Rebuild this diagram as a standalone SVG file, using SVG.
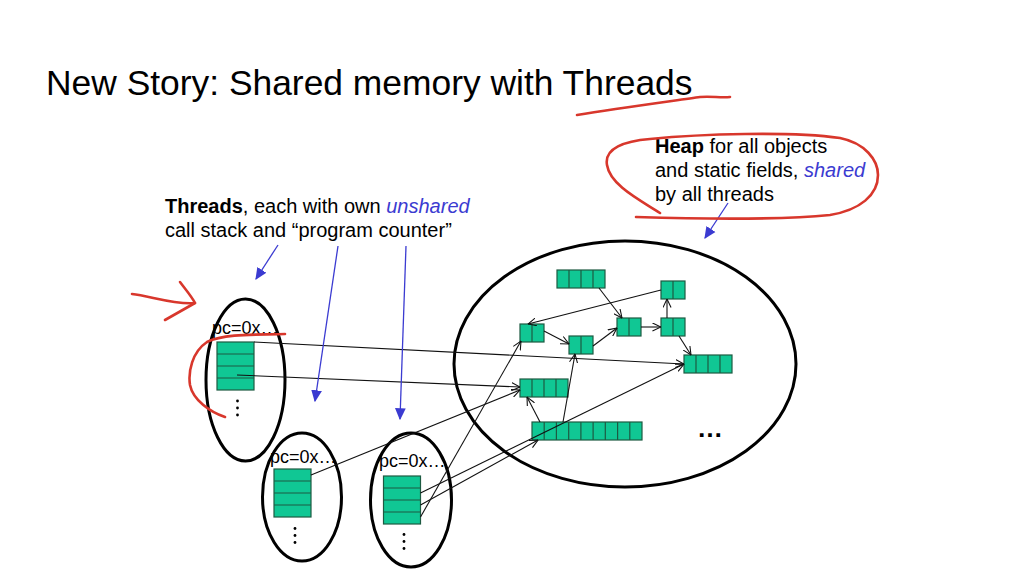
<svg xmlns="http://www.w3.org/2000/svg" width="1024" height="576" viewBox="0 0 1024 576">
<style>
text{font-family:"Liberation Sans",Arial,sans-serif;fill:#000}
.cell{fill:#10c794;stroke:#1d5a42;stroke-width:1.2}
.div{stroke:#1d5a42;stroke-width:1.2}
.conn{stroke:#111;stroke-width:1.1;fill:none}
.blue{stroke:#3b3bd1;stroke-width:1.3;fill:none}
.red{stroke:#d8372c;stroke-width:2.6;fill:none;stroke-linecap:round;stroke-linejoin:round}
.oval{fill:none;stroke:#000;stroke-width:3}
.dot{fill:#000}
</style>
<defs>
<marker id="ah" viewBox="0 0 10 10" refX="9.5" refY="5" markerWidth="9" markerHeight="9" markerUnits="userSpaceOnUse" orient="auto">
<path d="M0,0.5 L9.5,5 L0,9.5" fill="none" stroke="#111" stroke-width="1.2"/>
</marker>
<marker id="bh" viewBox="0 0 10 10" refX="9" refY="5" markerWidth="12" markerHeight="12" markerUnits="userSpaceOnUse" orient="auto">
<path d="M0,0.5 L10,5 L0,9.5 Z" fill="#3b3bd1"/>
</marker>
</defs>
<rect width="1024" height="576" fill="#fff"/>

<text x="46" y="95" font-size="35.4">New Story: Shared memory with Threads</text>

<g id="label-threads">
<text x="165" y="213" font-size="20"><tspan font-weight="bold">Threads</tspan>, each with own <tspan font-style="italic" fill="#3b3bd1">unshared</tspan></text>
<text x="165" y="237" font-size="20">call stack and “program counter”</text>
</g>
<g id="label-heap">
<text x="655" y="153" font-size="20"><tspan font-weight="bold">Heap</tspan> for all objects</text>
<text x="655" y="177" font-size="20">and static fields, <tspan font-style="italic" fill="#3b3bd1">shared</tspan></text>
<text x="655" y="201" font-size="20">by all threads</text>
</g>

<g id="heap">
<ellipse class="oval" cx="625" cy="364" rx="171" ry="123" stroke-width="4"/>
<text x="697" y="437" font-size="26" font-weight="bold">…</text>
</g>

<g id="obj-top4">
<rect class="cell" x="557" y="270" width="48" height="18"/>
<path class="div" d="M569,270v18M581,270v18M593,270v18"/>
</g>
<g id="obj-topright2">
<rect class="cell" x="661" y="281" width="24" height="18"/>
<path class="div" d="M673,281v18"/>
</g>
<g id="obj-left2">
<rect class="cell" x="520" y="324" width="24" height="18"/>
<path class="div" d="M532,324v18"/>
</g>
<g id="obj-mid2">
<rect class="cell" x="569" y="336" width="24" height="18"/>
<path class="div" d="M581,336v18"/>
</g>
<g id="obj-c2">
<rect class="cell" x="617" y="318" width="24" height="18"/>
<path class="div" d="M629,318v18"/>
</g>
<g id="obj-r2">
<rect class="cell" x="661" y="318" width="24" height="18"/>
<path class="div" d="M673,318v18"/>
</g>
<g id="obj-right4">
<rect class="cell" x="684" y="355" width="48" height="18"/>
<path class="div" d="M696,355v18M708,355v18M720,355v18"/>
</g>
<g id="obj-left4">
<rect class="cell" x="520" y="379" width="48" height="18"/>
<path class="div" d="M532,379v18M544,379v18M556,379v18"/>
</g>
<g id="obj-array9">
<rect class="cell" x="532" y="422" width="110" height="18"/>
<path class="div" d="M544.2,422v18M556.4,422v18M568.7,422v18M580.9,422v18M593.1,422v18M605.3,422v18M617.6,422v18M629.8,422v18"/>
</g>

<g id="thread1">
<ellipse class="oval" cx="245.5" cy="380" rx="39.5" ry="81"/>
<text x="212" y="334" font-size="18">pc=0x…</text>
<rect class="cell" x="217" y="342" width="37" height="48"/>
<path class="div" d="M217,354h37M217,366h37M217,378h37"/>
<circle class="dot" cx="237.5" cy="401" r="1.4"/>
<circle class="dot" cx="237.5" cy="408" r="1.4"/>
<circle class="dot" cx="237.5" cy="415" r="1.4"/>
</g>
<g id="thread2">
<ellipse class="oval" cx="302" cy="497" rx="39.5" ry="64"/>
<text x="270" y="463" font-size="18">pc=0x…</text>
<rect class="cell" x="274" y="469" width="37" height="48"/>
<path class="div" d="M274,481h37M274,493h37M274,505h37"/>
<circle class="dot" cx="295" cy="528.5" r="1.4"/>
<circle class="dot" cx="295" cy="535.5" r="1.4"/>
<circle class="dot" cx="295" cy="542.5" r="1.4"/>
</g>
<g id="thread3">
<ellipse class="oval" cx="411" cy="500" rx="40.5" ry="67"/>
<text x="379" y="467" font-size="18">pc=0x…</text>
<rect class="cell" x="383.5" y="476" width="37" height="48"/>
<path class="div" d="M383.5,488h37M383.5,500h37M383.5,512h37"/>
<circle class="dot" cx="404" cy="534.5" r="1.4"/>
<circle class="dot" cx="404" cy="541.5" r="1.4"/>
<circle class="dot" cx="404" cy="548.5" r="1.4"/>
</g>

<g id="connectors">
<line class="conn" x1="599" y1="288" x2="622" y2="318" marker-end="url(#ah)"/>
<line class="conn" x1="661" y1="290" x2="528" y2="324" marker-end="url(#ah)"/>
<line class="conn" x1="544" y1="331" x2="569" y2="344" marker-end="url(#ah)"/>
<line class="conn" x1="593" y1="346" x2="617" y2="328" marker-end="url(#ah)"/>
<line class="conn" x1="641" y1="327" x2="661" y2="327" marker-end="url(#ah)"/>
<line class="conn" x1="667" y1="318" x2="667" y2="299" marker-end="url(#ah)"/>
<line class="conn" x1="679" y1="336" x2="691" y2="355" marker-end="url(#ah)"/>
<line class="conn" x1="540" y1="422" x2="527" y2="397" marker-end="url(#ah)"/>
<line class="conn" x1="563" y1="422" x2="575" y2="354" marker-end="url(#ah)"/>
<line class="conn" x1="254" y1="342" x2="684" y2="364" marker-end="url(#ah)"/>
<line class="conn" x1="237" y1="375" x2="520" y2="387" marker-end="url(#ah)"/>
<line class="conn" x1="311" y1="475" x2="520" y2="390" marker-end="url(#ah)"/>
<line class="conn" x1="420.5" y1="493" x2="684" y2="364" marker-end="url(#ah)"/>
<line class="conn" x1="420.5" y1="505" x2="538" y2="440" marker-end="url(#ah)"/>
<line class="conn" x1="420.5" y1="517" x2="521" y2="341" marker-end="url(#ah)"/>
<line class="blue" x1="278" y1="245" x2="256" y2="279" marker-end="url(#bh)"/>
<line class="blue" x1="338" y1="246" x2="315" y2="401" marker-end="url(#bh)"/>
<line class="blue" x1="406" y1="246" x2="400" y2="419" marker-end="url(#bh)"/>
<line class="blue" x1="728" y1="203" x2="705" y2="238" marker-end="url(#bh)"/>
</g>

<g id="annotations">
<path class="red" d="M577,115 C620,108 680,100 700,97 C712,96 720,98 730,97"/>
<path class="red" d="M660,213 C640,200 610,185 607,165 C604,148 625,141 650,139 C700,134 790,131 840,138 C865,143 878,160 878,175 C878,195 860,210 830,215 C780,220 700,219 636,217"/>
<path class="red" d="M132,294 C150,296 175,305 195,303"/>
<path class="red" d="M180,282 C186,290 192,297 195,303 L165,320"/>
<path class="red" d="M285,334 C260,335 225,333 207,342 C192,352 188,372 190,385 C193,400 210,412 225,417"/>
</g>
</svg>
